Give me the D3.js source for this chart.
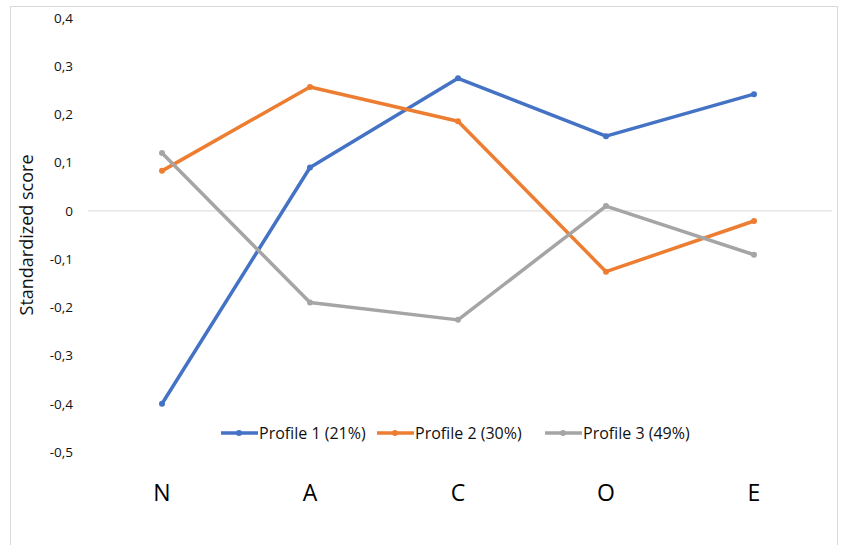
<!DOCTYPE html>
<html>
<head>
<meta charset="utf-8">
<script src="https://cdn.jsdelivr.net/npm/d3@7"></script>
<style>
  body { margin: 0; background: #fff; }
  svg { display: block; font-family: "Open Sans", sans-serif; }
</style>
</head>
<body>
<svg class="chart" width="843" height="545"></svg>
<script>
var traits = ["N", "A", "C", "O", "E"]
var profile1 = [-0.40, 0.09, 0.275, 0.155, 0.242]
var profile2 = [0.083, 0.257, 0.186, -0.126, -0.021]
var profile3 = [0.12, -0.19, -0.226, 0.01, -0.091]
var seriesNames = ["Profile 1 (21%)", "Profile 2 (30%)", "Profile 3 (49%)"]
var yTicks = [0.4, 0.3, 0.2, 0.1, 0, -0.1, -0.2, -0.3, -0.4, -0.5]

var colors = ["#4472C4", "#ED7D31", "#A5A5A5"]
var series = [profile1, profile2, profile3]

var chart = d3.select(".chart")

// outer frame
chart.append("rect")
    .attr("x", 10.5).attr("y", 6.5)
    .attr("width", 827).attr("height", 560)
    .attr("fill", "none")
    .attr("stroke", "#d9d9d9")

var x = d3.scaleBand()
    .domain(traits)
    .range([88, 828])

var y = d3.scaleLinear()
    .domain([-0.5, 0.4])
    .range([452, 18])

var fmt = d => d === 0 ? "0" : d3.format(".1f")(d).replace(".", ",").replace("−", "-")

// y tick labels
chart.append("g")
    .selectAll("text")
    .data(yTicks)
    .enter().append("text")
    .attr("x", 73)
    .attr("y", d => y(d))
    .attr("dy", "0.35em")
    .attr("text-anchor", "end")
    .attr("font-size", 13.5)
    .attr("fill", "#111")
    .text(fmt)

// zero line
chart.append("line")
    .attr("x1", 88).attr("x2", 832)
    .attr("y1", y(0)).attr("y2", y(0))
    .attr("stroke", "#d9d9d9")
    .attr("stroke-width", 1)

// y axis title
chart.append("text")
    .attr("transform", "translate(33," + y(-0.05) + ") rotate(-90)")
    .attr("text-anchor", "middle")
    .attr("font-size", 18)
    .attr("fill", "#111")
    .text("Standardized score")

// category labels
chart.append("g")
    .selectAll("text")
    .data(traits)
    .enter().append("text")
    .attr("x", d => x(d) + x.bandwidth() / 2)
    .attr("y", 501)
    .attr("text-anchor", "middle")
    .attr("font-size", 23)
    .attr("fill", "#000")
    .text(d => d)

var line = d3.line()
    .x((d, i) => x(traits[i]) + x.bandwidth() / 2)
    .y(d => y(d))

var g = chart.append("g")
series.forEach((s, k) => {
    g.append("path")
        .datum(s)
        .attr("fill", "none")
        .attr("stroke", colors[k])
        .attr("stroke-width", 3.5)
        .attr("stroke-linejoin", "round")
        .attr("d", line)
    g.selectAll(".dot" + k)
        .data(s)
        .enter().append("circle")
        .attr("cx", (d, i) => x(traits[i]) + x.bandwidth() / 2)
        .attr("cy", d => y(d))
        .attr("r", 3)
        .attr("fill", colors[k])
})

// legend
var legendX = [221, 377, 545]
var leg = chart.append("g")
seriesNames.forEach((name, k) => {
    var lx = legendX[k]
    leg.append("line")
        .attr("x1", lx).attr("x2", lx + 37)
        .attr("y1", 433).attr("y2", 433)
        .attr("stroke", colors[k])
        .attr("stroke-width", 3.5)
    leg.append("circle")
        .attr("cx", lx + 18).attr("cy", 433).attr("r", 3)
        .attr("fill", colors[k])
    leg.append("text")
        .attr("x", lx + 38)
        .attr("y", 433)
        .attr("dy", "0.35em")
        .attr("font-size", 16)
        .attr("fill", "#111")
        .text(name)
})
</script>
</body>
</html>
